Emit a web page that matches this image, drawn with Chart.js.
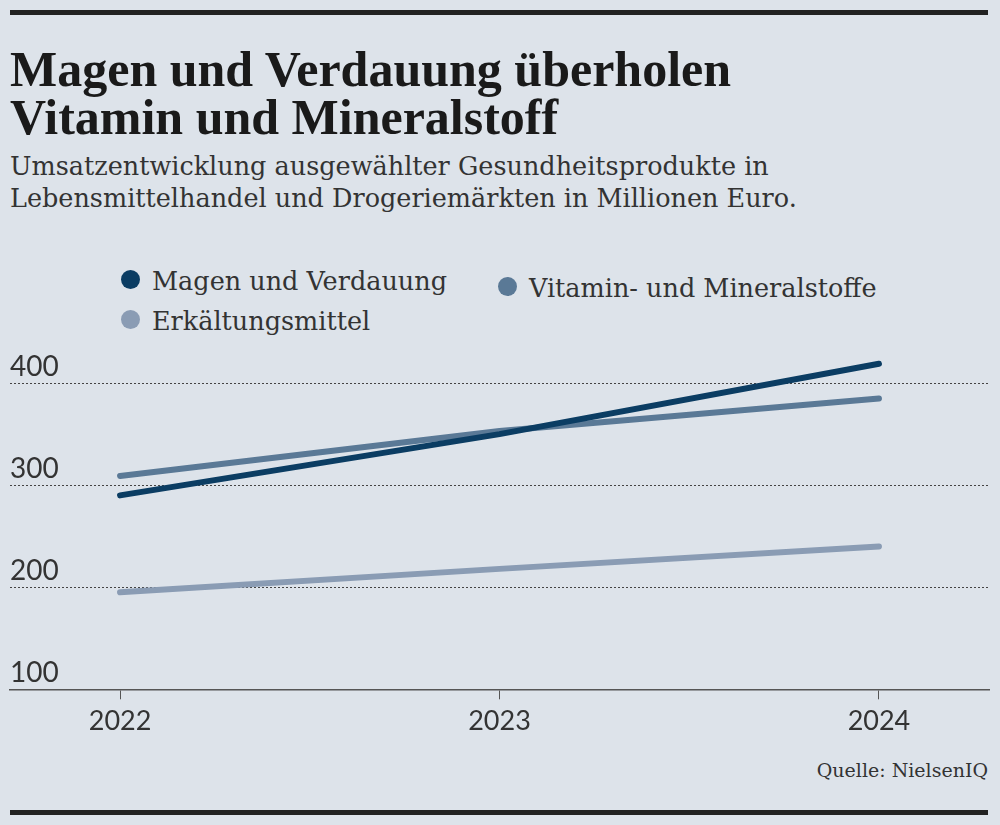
<!DOCTYPE html>
<html lang="de">
<head>
<meta charset="utf-8">
<script src="https://cdn.jsdelivr.net/npm/chart.js@4"></script>
<style>
    html, body { margin: 0; padding: 0; }
    body { width: 1000px; height: 825px; background: #dde3ea; position: relative; overflow: hidden; }
    .bar { position: absolute; left: 10px; width: 978px; height: 5px; background: #222; }
    #title { position: absolute; left: 10px; top: 45px; font: bold 50px "Liberation Serif", serif; line-height: 48px; color: #1a1a1a; white-space: nowrap; }
    #subtitle { position: absolute; left: 10px; top: 150px; font: 25.5px "DejaVu Serif", serif; line-height: 32px; color: #333; white-space: nowrap; }
    .legend-item { position: absolute; font: 25.5px "DejaVu Serif", serif; line-height: 30px; color: #333; white-space: nowrap; }
    .legend-dot { position: absolute; width: 19px; height: 19px; border-radius: 50%; }
    #source { position: absolute; right: 12px; top: 759px; font: 19px "DejaVu Serif", serif; color: #333; }
    #chart { position: absolute; left: 0; top: 330px; }
</style>
</head>
<body>
<div class="bar" style="top: 10px;"></div>
<div id="title">Magen und Verdauung überholen<br>Vitamin und Mineralstoff</div>
<div id="subtitle">Umsatzentwicklung ausgewählter Gesundheitsprodukte in<br>Lebensmittelhandel und Drogeriemärkten in Millionen Euro.</div>
<div id="legend"></div>
<canvas id="chart" width="1000" height="410"></canvas>
<div id="source">Quelle: NielsenIQ</div>
<div class="bar" style="top: 810px;"></div>

<script>
const years = [2022, 2023, 2024];
const magenVerdauung = [290, 350, 419];
const vitaminMineral = [309, 353, 385];
const erkaeltung = [195, 218, 240];
const yTicks = [100, 200, 300, 400];

const seriesNames = ['Magen und Verdauung', 'Vitamin- und Mineralstoffe', 'Erkältungsmittel'];
const seriesColors = ['#0b3d63', '#5a7996', '#8a9cb4'];

// legend positions follow the reference layout (two items, then one)
let legendSpots = [
    { x: 121, y: 270 },
    { x: 498, y: 277 },
    { x: 121, y: 310 }
];

let legend = document.getElementById('legend');
seriesNames.forEach((name, i) => {
    let dot = document.createElement('div');
    dot.className = 'legend-dot';
    dot.style.left = legendSpots[i].x + 'px';
    dot.style.top = legendSpots[i].y + 'px';
    dot.style.background = seriesColors[i];
    legend.appendChild(dot);

    let label = document.createElement('div');
    label.className = 'legend-item';
    label.textContent = name;
    label.style.left = (legendSpots[i].x + 31) + 'px';
    label.style.top = (legendSpots[i].y - 4) + 'px';
    legend.appendChild(label);
});

function toPoints(values) {
    return values.map((v, i) => ({ x: years[i], y: v }));
}

let seriesValues = [magenVerdauung, vitaminMineral, erkaeltung];

new Chart(document.getElementById('chart'), {
    type: 'line',
    data: {
        datasets: seriesValues.map((values, i) => ({
            label: seriesNames[i],
            data: toPoints(values),
            borderColor: seriesColors[i],
            borderWidth: 6,
            borderCapStyle: 'round',
            pointRadius: 0,
            tension: 0
        }))
    },
    options: {
        responsive: false,
        animation: false,
        layout: {
            padding: { top: 12.5, left: 10, right: 11, bottom: 0 }
        },
        plugins: {
            legend: { display: false },
            tooltip: { enabled: false }
        },
        scales: {
            x: {
                type: 'linear',
                min: 2021.71,
                max: 2024.29,
                afterBuildTicks: scale => {
                    scale.ticks = years.map(v => ({ value: v }));
                },
                afterFit: scale => {
                    scale.height = 50.7;
                },
                ticks: {
                    color: '#333',
                    padding: 6,
                    font: { family: 'Lato', size: 27 },
                    callback: v => String(v)
                },
                grid: {
                    drawOnChartArea: false,
                    drawTicks: true,
                    tickLength: 10,
                    color: '#555',
                    lineWidth: 1
                },
                border: {
                    display: true,
                    color: '#555',
                    width: 1.5
                }
            },
            y: {
                type: 'linear',
                min: 100,
                max: 435.6,
                afterBuildTicks: scale => {
                    scale.ticks = yTicks.map(v => ({ value: v }));
                },
                afterFit: scale => {
                    scale.width = 0;
                },
                ticks: {
                    mirror: true,
                    padding: 0,
                    labelOffset: -16,
                    color: '#333',
                    font: { family: 'Lato', size: 28 },
                    callback: v => String(v)
                },
                grid: {
                    drawTicks: false,
                    color: ctx => ctx.tick && ctx.tick.value === 100 ? 'rgba(0,0,0,0)' : '#444',
                    lineWidth: 1
                },
                border: {
                    display: false,
                    dash: [2, 2]
                }
            }
        }
    }
});
</script>
</body>
</html>
